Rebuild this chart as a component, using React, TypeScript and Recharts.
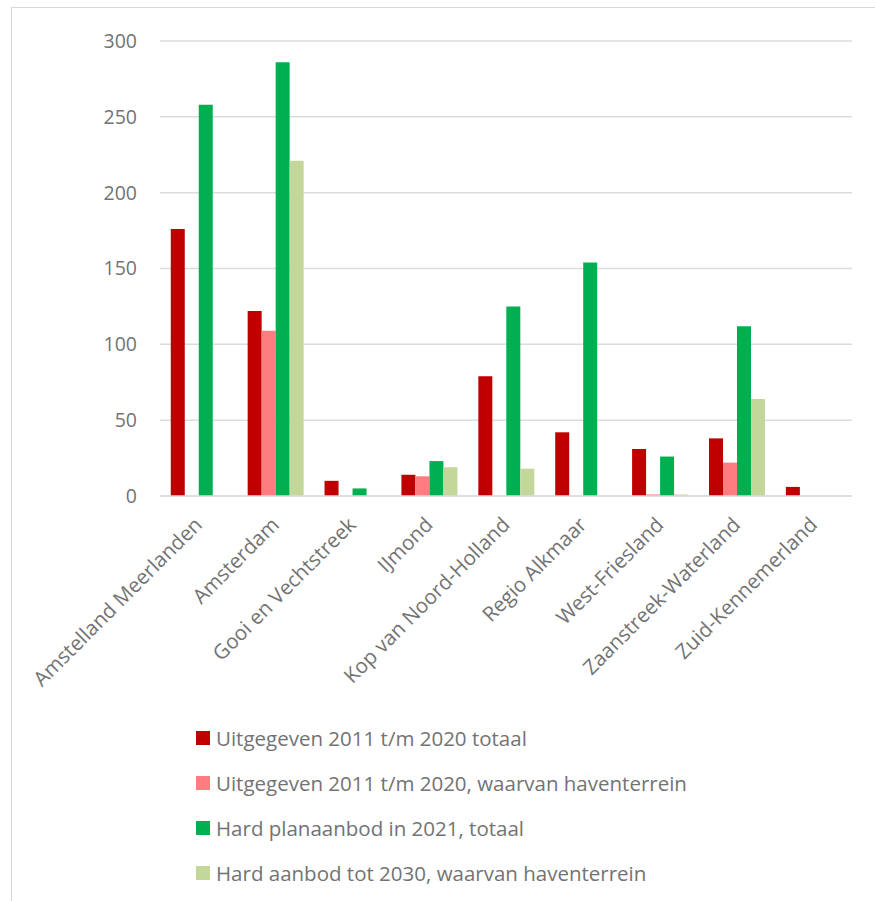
import React from 'react';
import { BarChart, Bar, XAxis, YAxis, CartesianGrid } from 'recharts';

const categories = [
  'Amstelland Meerlanden',
  'Amsterdam',
  'Gooi en Vechtstreek',
  'IJmond',
  'Kop van Noord-Holland',
  'Regio Alkmaar',
  'West-Friesland',
  'Zaanstreek-Waterland',
  'Zuid-Kennemerland',
];

const uitgegevenTotaal = [176, 122, 10, 14, 79, 42, 31, 38, 6];
const uitgegevenHaven = [0, 109, 0, 13, 0, 0, 1, 22, 0];
const hardPlanTotaal = [258, 286, 5, 23, 125, 154, 26, 112, 0];
const hardAanbodHaven = [0, 221, 0, 19, 18, 0, 1, 64, 0];

const yTicks = [0, 50, 100, 150, 200, 250, 300];

const seriesNames = [
  'Uitgegeven 2011 t/m 2020 totaal',
  'Uitgegeven 2011 t/m 2020, waarvan haventerrein',
  'Hard planaanbod in 2021, totaal',
  'Hard aanbod tot 2030, waarvan haventerrein',
];
const seriesColors = ['#C00000', '#FF7C80', '#00B050', '#C4D79B'];
const seriesKeys = ['a', 'b', 'c', 'd'];

const data = categories.map((name, i) => ({
  name,
  a: uitgegevenTotaal[i],
  b: uitgegevenHaven[i],
  c: hardPlanTotaal[i],
  d: hardAanbodHaven[i],
}));

const FONT = '"Open Sans", "Noto Sans", sans-serif';
const TEXT = '#737373';

const XTick = (props: any) => {
  const { x, y, payload } = props;
  return (
    <g transform={`translate(${x + 5},${y + 22})`}>
      <text
        transform="rotate(-45)"
        textAnchor="end"
        fill={TEXT}
        fontSize={20.5}
        fontFamily={FONT}
      >
        {payload.value}
      </text>
    </g>
  );
};

export default function App() {
  return (
    <div style={{ position: 'absolute', left: 0, top: 0, width: 875, height: 901, background: '#fff' }}>
      <div
        style={{
          position: 'absolute',
          left: 11,
          top: 7,
          right: -2,
          bottom: -2,
          borderLeft: '1.5px solid #d9d9d9',
          borderTop: '1.5px solid #d9d9d9',
        }}
      />
      <div style={{ position: 'absolute', left: 0, top: 0 }}>
        <BarChart
          width={875}
          height={901}
          data={data}
          margin={{ top: 41, right: 23, left: 0, bottom: 0 }}
          barCategoryGap="14%"
          barGap={0}
        >
          <CartesianGrid vertical={false} stroke="#dcdcdc" strokeWidth={1.5} />
          <XAxis
            dataKey="name"
            height={405}
            axisLine={{ stroke: '#dcdcdc', strokeWidth: 1.5 }}
            tickLine={false}
            interval={0}
            tick={<XTick />}
          />
          <YAxis
            width={160}
            domain={[0, 300]}
            ticks={yTicks}
            axisLine={false}
            tickLine={false}
            tickSize={0}
            tickMargin={23}
            tick={{ fill: TEXT, fontSize: 19.5, fontFamily: FONT }}
          />
          {seriesKeys.map((k, i) => (
            <Bar key={k} dataKey={k} name={seriesNames[i]} fill={seriesColors[i]} isAnimationActive={false} />
          ))}
        </BarChart>
      </div>
      <div style={{ position: 'absolute', left: 196, top: 715, fontFamily: FONT }}>
        {seriesNames.map((n, i) => (
          <div key={n} style={{ display: 'flex', alignItems: 'center', height: 45.2 }}>
            <div style={{ width: 14, height: 14, background: seriesColors[i], marginRight: 6 }} />
            <span style={{ color: TEXT, fontSize: 20.5 }}>{n}</span>
          </div>
        ))}
      </div>
    </div>
  );
}
